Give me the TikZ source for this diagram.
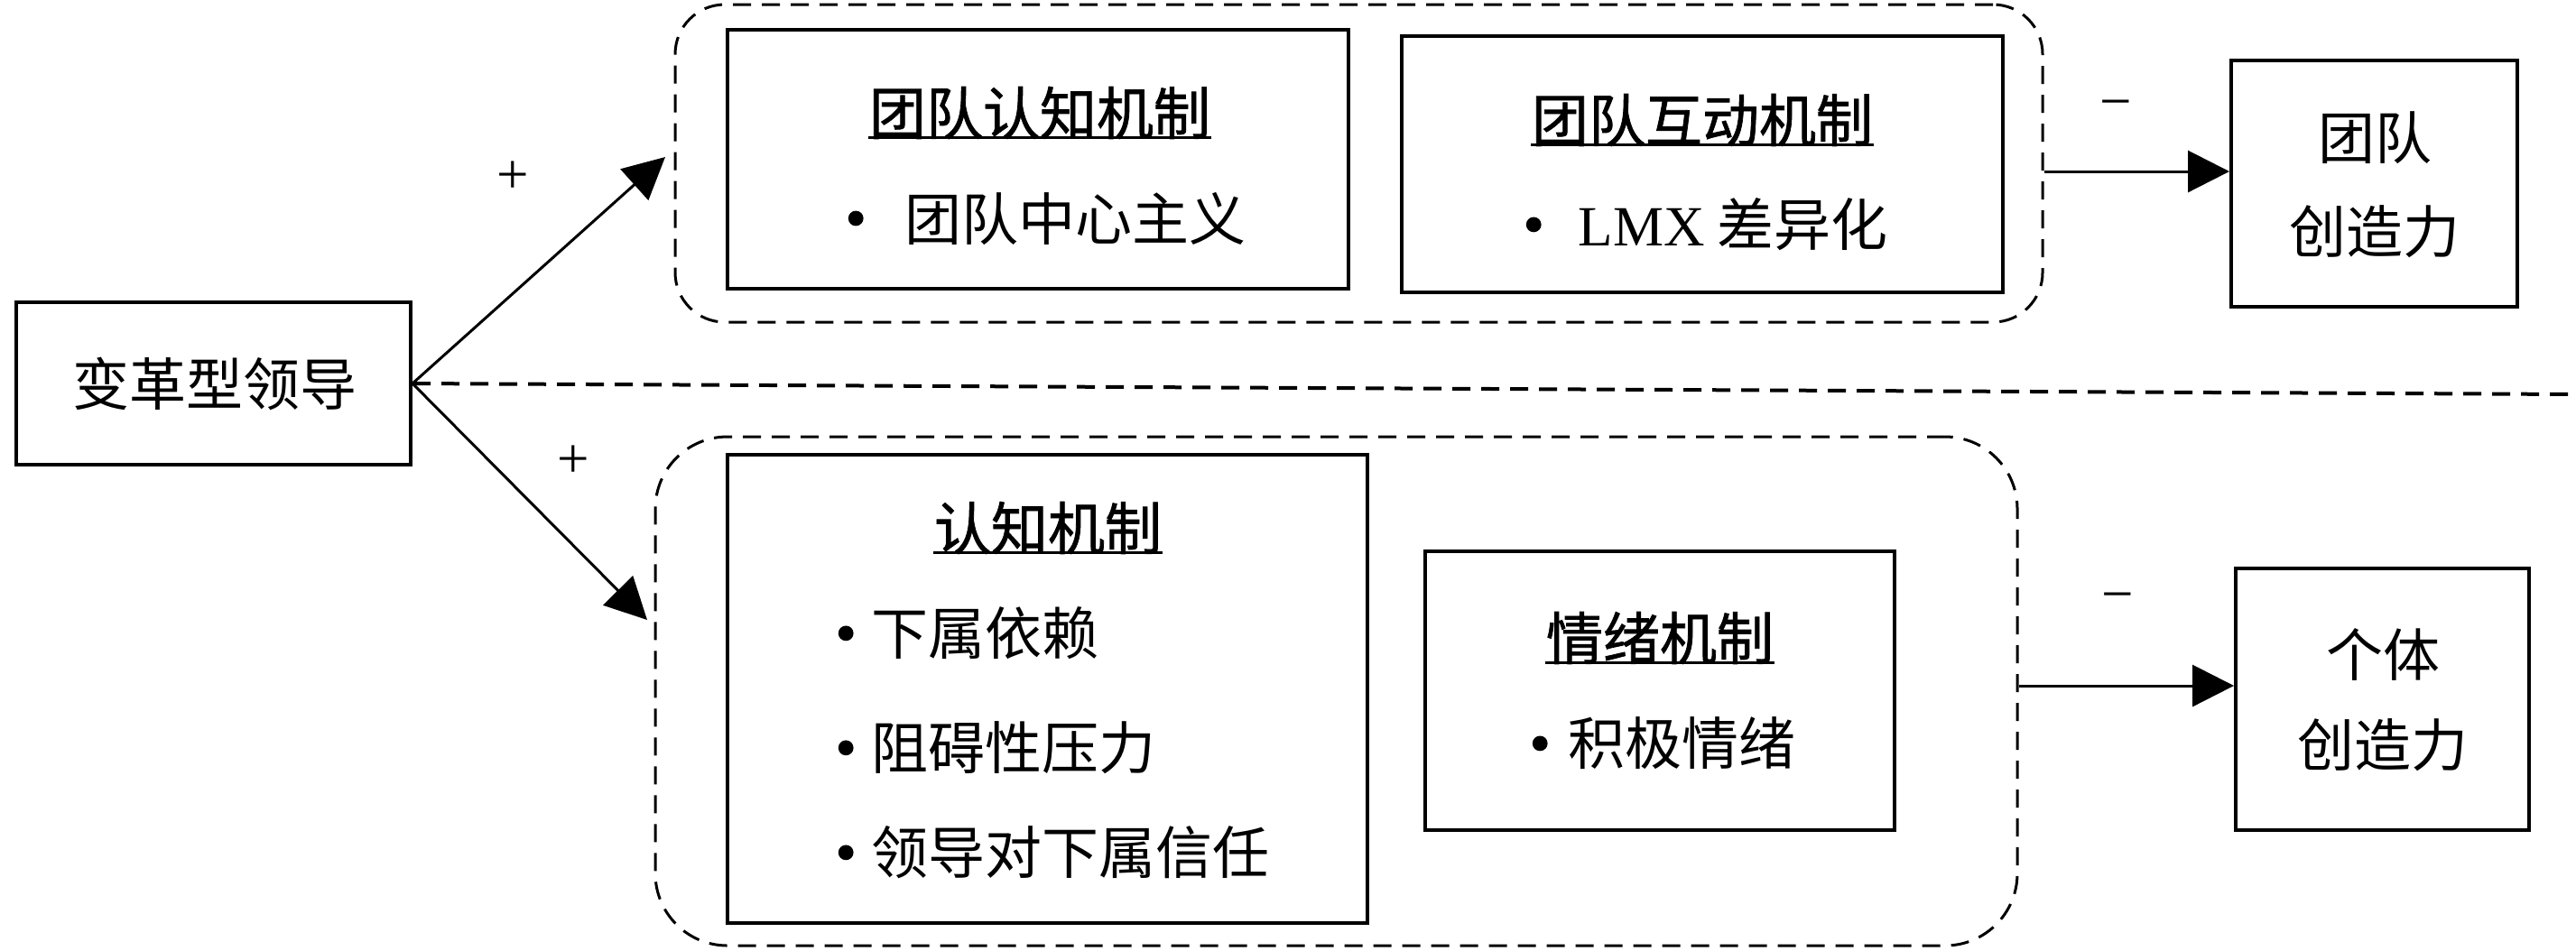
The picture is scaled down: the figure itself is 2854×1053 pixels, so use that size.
\documentclass[tikz,border=0pt]{standalone}
\usepackage{fontspec}
\setmainfont{Liberation Serif}
\newfontfamily\cjk{Noto Sans CJK SC}
\newfontfamily\cjkb{Noto Sans CJK SC}[FakeBold=1.2]
\usetikzlibrary{arrows.meta}
\newcommand\dotb{\raisebox{3.9pt}{\tikz\fill (0,0) circle (2.1pt);}}
\newcommand\bul[2]{\dotb\hspace{#1}#2}
\begin{document}
\begin{tikzpicture}[x=0.25pt,y=-0.25pt,
  box/.style={draw, line width=1pt, inner sep=0pt},
  grp/.style={draw, line width=0.75pt, dash pattern=on 5pt off 3pt, inner sep=0pt},
  arr/.style={line width=0.75pt, -{Triangle[length=11.5pt,width=11.5pt]}},
  txt/.style={font=\cjk\fontsize{15.75pt}{19pt}\selectfont, inner sep=0pt},
  ttl/.style={font=\cjkb\fontsize{15.75pt}{19pt}\selectfont, inner sep=0pt},
  itm/.style={txt, anchor=west},
  two/.style={txt, align=center},
  sgn/.style={font=\rmfamily\fontsize{15.75pt}{19pt}\selectfont, inner sep=0pt},
  ul/.style={line width=0.6pt}]
\useasboundingbox (0,0) rectangle (2854,1053);

% group boxes
\node[grp, rounded corners=13.75pt, minimum width=378.75pt, minimum height=88pt] (topgrp) at (1505.5,181) {};
\node[grp, rounded corners=20pt, minimum width=377.25pt, minimum height=141pt] (botgrp) at (1480.5,766) {};

% boxes
\node[box, minimum width=109.25pt, minimum height=45pt] (lead) at (236.5,425) {};
\node[box, minimum width=172pt, minimum height=71.75pt] (tcog) at (1150,176.5) {};
\node[box, minimum width=166.5pt, minimum height=71pt] (tint) at (1886,182) {};
\node[box, minimum width=79.25pt, minimum height=68.25pt] (tcre) at (2630.5,203.5) {};
\node[box, minimum width=177.25pt, minimum height=129.75pt] (icog) at (1160.5,763.5) {};
\node[box, minimum width=130pt, minimum height=77.25pt] (emo) at (1839,765.5) {};
\node[box, minimum width=81.25pt, minimum height=72.5pt] (icre) at (2639.5,775) {};

% texts
\node[txt] (leadT) at (238,425) {变革型领导};

\node[ttl] (tcogT) at (1152,125) {团队认知机制};
\draw[ul] ([yshift=0.6pt]tcogT.south west) -- ([yshift=0.6pt]tcogT.south east);
\node[itm] (tcogA) at (939,242) {\bul{11.5pt}{团队中心主义}};

\node[ttl] (tintT) at (1886,133) {团队互动机制};
\draw[ul] ([yshift=0.6pt]tintT.south west) -- ([yshift=0.6pt]tintT.south east);
\node[itm] (tintA) at (1690,249) {\bul{10.25pt}{{\rmfamily LMX} 差异化}};

\node[two] (tcreT) at (2631,205) {团队\\[7pt]创造力};

\node[ttl] (icogT) at (1161,585) {认知机制};
\draw[ul] ([yshift=0.6pt]icogT.south west) -- ([yshift=0.6pt]icogT.south east);
\node[itm] (icogA) at (928,702) {\bul{5pt}{下属依赖}};
\node[itm] (icogB) at (928,829) {\bul{5pt}{阻碍性压力}};
\node[itm] (icogC) at (928,945) {\bul{5pt}{领导对下属信任}};

\node[ttl] (emoT) at (1839,707) {情绪机制};
\draw[ul] ([yshift=0.6pt]emoT.south west) -- ([yshift=0.6pt]emoT.south east);
\node[itm] (emoA) at (1697,824) {\bul{5.75pt}{积极情绪}};

\node[two] (icreT) at (2640,776) {个体\\[6pt]创造力};

% connectors
\coordinate (tipA) at (737,174);
\coordinate (tipB) at (717,687);
\coordinate (dend) at (2854,437);
\draw[arr] (lead.east) -- (tipA);
\draw[arr] (lead.east) -- (tipB);
\draw[line width=1pt, dash pattern=on 5pt off 3pt] (lead.east) -- (dend);
\draw[arr] (topgrp.east |- 0,190) -- (tcre.west |- 0,190);
\draw[arr] (botgrp.east |- 0,760) -- (icre.west |- 0,760);

% signs
\node[sgn] (pA) at (568,197) {+};
\node[sgn] (pB) at (635,512) {+};
\node[sgn] (mA) at (2344,122) {−};
\node[sgn] (mB) at (2346,668) {−};
\end{tikzpicture}
\end{document}
